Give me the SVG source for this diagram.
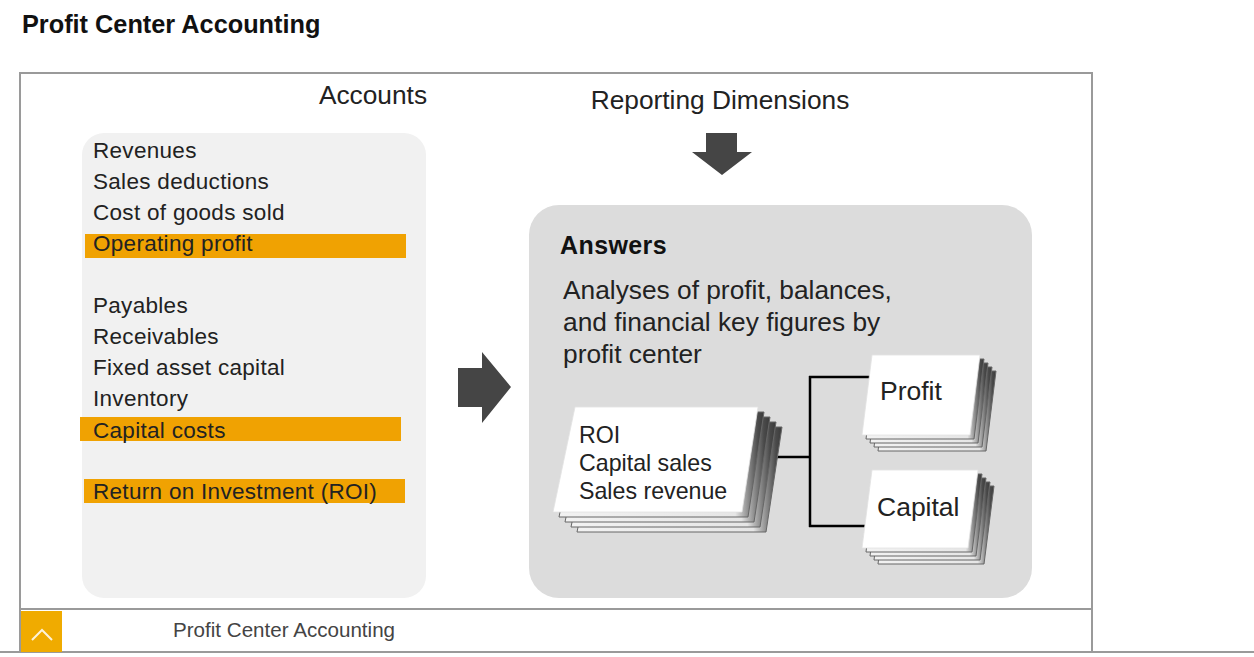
<svg xmlns="http://www.w3.org/2000/svg" width="1254" height="657" viewBox="0 0 1254 657">
<defs>
  <linearGradient id="layerShade" x1="0" y1="0" x2="1" y2="0">
    <stop offset="0" stop-color="#f2f2f2"/>
    <stop offset="0.86" stop-color="#e6e6e6"/>
    <stop offset="0.97" stop-color="#4a4a4a"/>
    <stop offset="1" stop-color="#3a3a3a"/>
  </linearGradient>
</defs>
<style>
  text { font-family: "Liberation Sans", Arial, sans-serif; fill: #222; }
  .item { font-size: 22.5px; letter-spacing: 0.3px; }
  .head { font-size: 26.3px; }
  .hl { fill: #f0a202; }
  .card { fill: #ffffff; stroke: #e2e2e2; stroke-width: 0.8; }
  .back { fill: url(#layerShade); stroke: #666; stroke-width: 1; }
  .conn { stroke: #000; stroke-width: 2.5; fill: none; }
  .bigarrow { fill: #454545; }
  .cardtxt { font-size: 23.2px; }
  .bigcard { font-size: 26.5px; }
</style>
<rect x="0" y="0" width="1254" height="657" fill="#fff"/>
<text x="22" y="33" font-size="25.3" font-weight="bold" style="fill:#111">Profit Center Accounting</text>

<g id="frame">
  <rect x="20" y="73" width="1072" height="579" fill="#fff" stroke="#9a9a9a" stroke-width="2"/>
  <line x1="20" y1="609" x2="1092" y2="609" stroke="#9a9a9a" stroke-width="2"/>
  <line x1="0" y1="652" x2="1254" y2="652" stroke="#9a9a9a" stroke-width="2"/>
</g>

<g id="footer">
  <rect x="21" y="611" width="41" height="41" fill="#f0ab00"/>
  <polyline points="32,640 42,630 52,640" fill="none" stroke="#fff" stroke-width="2" opacity="0.85"/>
  <text x="173" y="637" font-size="20.6" style="fill:#444">Profit Center Accounting</text>
</g>

<g id="accounts">
  <rect x="82" y="133" width="344" height="465" rx="22" fill="#f1f1f1"/>
  <text class="head" x="373" y="104" text-anchor="middle">Accounts</text>
  <rect class="hl" x="85" y="234" width="321" height="24"/>
  <rect class="hl" x="80" y="417" width="321" height="24"/>
  <rect class="hl" x="84" y="479" width="321" height="24"/>
  <text class="item" x="93" y="158">Revenues</text>
  <text class="item" x="93" y="189">Sales deductions</text>
  <text class="item" x="93" y="220">Cost of goods sold</text>
  <text class="item" x="93" y="251">Operating profit</text>
  <text class="item" x="93" y="313">Payables</text>
  <text class="item" x="93" y="344">Receivables</text>
  <text class="item" x="93" y="375">Fixed asset capital</text>
  <text class="item" x="93" y="406">Inventory</text>
  <text class="item" x="93" y="438">Capital costs</text>
  <text class="item" x="93" y="499">Return on Investment (ROI)</text>
</g>

<g id="arrow-right">
  <polygon class="bigarrow" points="458,368 482,368 482,352 511,387 482,423 482,407 458,407"/>
</g>

<g id="reporting-dimensions">
  <text class="head" x="720" y="109" text-anchor="middle">Reporting Dimensions</text>
  <polygon class="bigarrow" points="706,133 737,133 737,152 752,152 722,175 692,152 706,152"/>
</g>

<g id="answers">
  <rect x="529" y="205" width="503" height="393" rx="30" fill="#dcdcdc"/>
  <text x="560" y="254" font-size="25" font-weight="bold" letter-spacing="0.4" style="fill:#111">Answers</text>
  <text class="head" x="563" y="299">Analyses of profit, balances,</text>
  <text class="head" x="563" y="331">and financial key figures by</text>
  <text class="head" x="563" y="363">profit center</text>
</g>

<g id="connectors">
  <line class="conn" x1="764" y1="457" x2="810" y2="457"/>
  <line class="conn" x1="810" y1="376" x2="810" y2="527"/>
  <line class="conn" x1="809" y1="377" x2="870" y2="377"/>
  <line class="conn" x1="809" y1="526" x2="870" y2="526"/>
</g>

<g id="stack-roi">
  <polygon class="back" points="599,427 782,427 766,532 577,532"/>
  <polygon class="back" points="593,422 776,422 760,527 571,527"/>
  <polygon class="back" points="587,417 770,417 754,522 565,522"/>
  <polygon class="back" points="581,412 764,412 748,517 559,517"/>
  <polygon class="card" points="575,407 758,407 742,512 553,512"/>
  <text class="cardtxt" x="579" y="443">ROI</text>
  <text class="cardtxt" x="579" y="471">Capital sales</text>
  <text class="cardtxt" x="579" y="499">Sales revenue</text>
</g>

<g id="stack-profit">
  <polygon class="back" points="888,371 996,371 986,451 878,451"/>
  <polygon class="back" points="884,367 992,367 982,447 874,447"/>
  <polygon class="back" points="880,363 988,363 978,443 870,443"/>
  <polygon class="back" points="876,359 984,359 974,439 866,439"/>
  <polygon class="card" points="872,355 980,355 970,435 862,435"/>
  <text class="bigcard" x="880" y="400">Profit</text>
</g>

<g id="stack-capital">
  <polygon class="back" points="888,486 994,486 984,564 878,564"/>
  <polygon class="back" points="884,482 990,482 980,560 874,560"/>
  <polygon class="back" points="880,478 986,478 976,556 870,556"/>
  <polygon class="back" points="876,474 982,474 972,552 866,552"/>
  <polygon class="card" points="872,470 978,470 968,548 862,548"/>
  <text class="bigcard" x="877" y="516">Capital</text>
</g>
</svg>
